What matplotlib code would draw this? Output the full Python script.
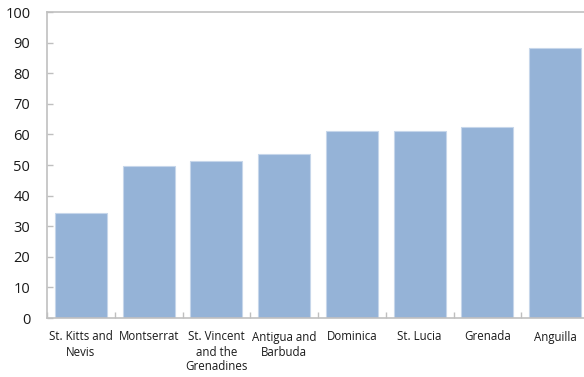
import matplotlib
matplotlib.use("Agg")
import matplotlib.pyplot as plt
import numpy as np

plt.rcParams['font.family'] = ['Open Sans', 'DejaVu Sans']

countries = ["St. Kitts and\nNevis", "Montserrat", "St. Vincent\nand the\nGrenadines",
             "Antigua and\nBarbuda", "Dominica", "St. Lucia", "Grenada", "Anguilla"]
values = [34.3, 49.7, 51.3, 53.6, 61.0, 61.0, 62.3, 88.1]
y_ticks = [0, 10, 20, 30, 40, 50, 60, 70, 80, 90, 100]

fig = plt.figure(figsize=(5.84, 3.77), dpi=100)
ax = fig.add_axes([47 / 584, 1 - 318 / 377, 542 / 584, 306 / 377])

x = np.arange(len(countries))
ax.bar(x, values, width=0.765, color="#95b3d7", edgecolor="#c6d6ea", linewidth=0.8)

ax.set_xlim(-0.5, len(countries) - 0.5)
ax.set_ylim(0, 100)
ax.set_yticks(y_ticks)
ax.set_yticklabels([str(t) for t in y_ticks], fontsize=10.5, color="#1a1a1a")

ax.set_xticks(x)
ax.set_xticklabels(countries, fontsize=8.3, color="#1a1a1a", linespacing=1.2)
ax.tick_params(axis="x", length=0, pad=9)
# small boundary ticks between categories
ax.set_xticks(np.arange(-0.5, len(countries), 1.0), minor=True)
ax.tick_params(axis="x", which="minor", direction="in", length=4, color="#bfbfbf", width=1)
ax.tick_params(axis="y", direction="in", length=4, color="#bfbfbf", width=1, pad=12)

for side, sp in ax.spines.items():
    sp.set_color("#c0c0c0")
    sp.set_linewidth(1.2)
ax.spines["right"].set_visible(False)

fig.savefig("out.png", dpi=100)
